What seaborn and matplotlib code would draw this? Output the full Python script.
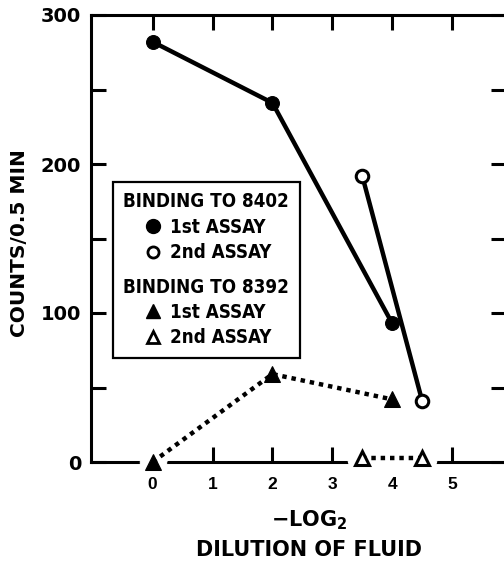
import matplotlib
matplotlib.use("Agg")
import matplotlib.pyplot as plt
from matplotlib.lines import Line2D
from matplotlib.transforms import Affine2D
import seaborn as sns
import pandas as pd

# -log2 dilution vs counts/0.5 min
x_8402_1st = [0, 2, 4]
y_8402_1st = [282, 241, 93]
x_8402_2nd = [3.5, 4.5]
y_8402_2nd = [192, 41]
x_8392_1st = [0, 2, 4]
y_8392_1st = [0, 59, 42]
x_8392_2nd = [3.5, 4.5]
y_8392_2nd = [3, 3]

x_ticks = [0, 1, 2, 3, 4, 5]
y_ticks = [0, 100, 200, 300]

sns.set_style("ticks")
plt.rcParams['font.family'] = ['DejaVu Sans']
plt.rcParams['font.weight'] = 'bold'
for key in ('text.color', 'axes.labelcolor', 'xtick.color', 'ytick.color',
            'axes.edgecolor'):
    plt.rcParams[key] = 'black'

fig = plt.figure(figsize=(5.04, 5.65), dpi=100)
ax = fig.add_axes([91 / 504, 1 - 462 / 565, (506 - 91) / 504, (462 - 15) / 565])
ax.set_axisbelow(True)


def draw_series(x, y, z, **kws):
    df = pd.DataFrame({'x': x, 'y': y})
    sns.lineplot(data=df, x='x', y='y', ax=ax, sort=False, estimator=None, **kws)
    ln = ax.lines[-1]
    ln.set_zorder(z)
    ln.set_clip_on(False)
    return ln


# white backing under the triangles that sit on the x axis (breaks the axis line)
draw_series(x_8392_1st, y_8392_1st, 4, color='white', linewidth=12, marker='o',
            markersize=19, markeredgecolor='white')
draw_series(x_8392_2nd, y_8392_2nd, 4, color='white', linewidth=12, marker='o',
            markersize=21, markeredgecolor='white')

# binding to 8402 (solid)
draw_series(x_8402_1st, y_8402_1st, 5, color='black', linewidth=3.2, marker='o',
            markersize=10, markerfacecolor='black', markeredgecolor='black')
draw_series(x_8402_2nd, y_8402_2nd, 5, color='black', linewidth=3.2, marker='o',
            markersize=9, markerfacecolor='white', markeredgecolor='black',
            markeredgewidth=2.2)

# binding to 8392 (dotted)
ln = draw_series(x_8392_1st, y_8392_1st, 5, color='black', linewidth=3.2,
                 linestyle=(0, (1, 1.1)), marker='^', markersize=11,
                 markerfacecolor='black', markeredgecolor='black')
ln.set_dash_capstyle('butt')
ln = draw_series(x_8392_2nd, y_8392_2nd, 5, color='black', linewidth=3.2,
                 linestyle=(0, (1, 1.1)), marker='^', markersize=10,
                 markerfacecolor='white', markeredgecolor='black',
                 markeredgewidth=2.2)
ln.set_dash_capstyle('butt')

ax.set_xlim(-1.03, 5.9)
ax.set_ylim(0, 300)
ax.set_xticks(x_ticks)
ax.set_yticks(y_ticks)
ax.set_yticks([50, 150, 250], minor=True)
ax.set_xticklabels([str(t) for t in x_ticks], fontsize=12.5, fontweight='bold',
                   family='Liberation Sans')
ax.set_yticklabels([str(t) for t in y_ticks], fontsize=14, fontweight='bold')
ax.tick_params(which='both', direction='in', length=11, width=2.2,
               top=True, right=True, colors='black')
ax.tick_params(axis='y', pad=7)
ax.tick_params(axis='x', pad=11)
# bottom ticks hidden where the axis line is broken by the points
for i in (0, 4):
    ax.xaxis.get_major_ticks()[i].tick1line.set_visible(False)

for s in ax.spines.values():
    s.set_linewidth(2.2)
    s.set_color('black')
    s.set_zorder(1)

ax.set_xlabel('$-$LOG$_2$\nDILUTION OF FLUID', fontsize=15, fontweight='bold',
              linespacing=1.55)
ax.xaxis.set_label_coords((309 - 91) / (506 - 91), -46 / 447)
ax.xaxis.label.set_verticalalignment('top')
ax.set_ylabel('COUNTS/0.5 MIN', fontsize=14.5, fontweight='bold')
ax.yaxis.set_label_coords(-71 / 415, (462 - 243) / 447)
ax.yaxis.label.set_verticalalignment('center')

blank = Line2D([], [], linestyle='none')
handles = [
    blank,
    Line2D([], [], linestyle='none', marker='o', markersize=10, color='black'),
    Line2D([], [], linestyle='none', marker='o', markersize=8,
           markerfacecolor='white', markeredgecolor='black', markeredgewidth=2),
    blank,
    Line2D([], [], linestyle='none', marker='^', markersize=10, color='black'),
    Line2D([], [], linestyle='none', marker='^', markersize=9,
           markerfacecolor='white', markeredgecolor='black', markeredgewidth=2),
]
labels = ['BINDING TO 8402', '1st ASSAY', '2nd ASSAY',
          'BINDING TO 8392', '1st ASSAY', '2nd ASSAY']
leg_font = {'family': 'DejaVu Sans', 'stretch': 'condensed',
            'weight': 'bold', 'size': 13.5}
leg = ax.legend(handles, labels, loc='upper left',
                bbox_to_anchor=((113 - 91) / 415, (462 - 182) / 447),
                frameon=True, fancybox=False, edgecolor='black', framealpha=1,
                prop=leg_font, handlelength=0.8, handletextpad=0.5,
                labelspacing=0.34, borderpad=0.55, borderaxespad=0)
leg.get_frame().set_linewidth(1.6)
leg.set_zorder(6)
# headers sit flush left; markers are indented under them
rows = leg._legend_handle_box.get_children()[0].get_children()
for i in (0, 3):
    rows[i].get_children()[0].width = 0
    rows[i].sep = 0
rows[3].get_children()[0].height += 8
for i in (1, 2, 4, 5):
    da = rows[i].get_children()[0]
    da.width += 16
    for c in da.get_children():
        c.set_transform(Affine2D().translate(16, 0) + c.get_transform())

fig.savefig('out.png', dpi=100)
